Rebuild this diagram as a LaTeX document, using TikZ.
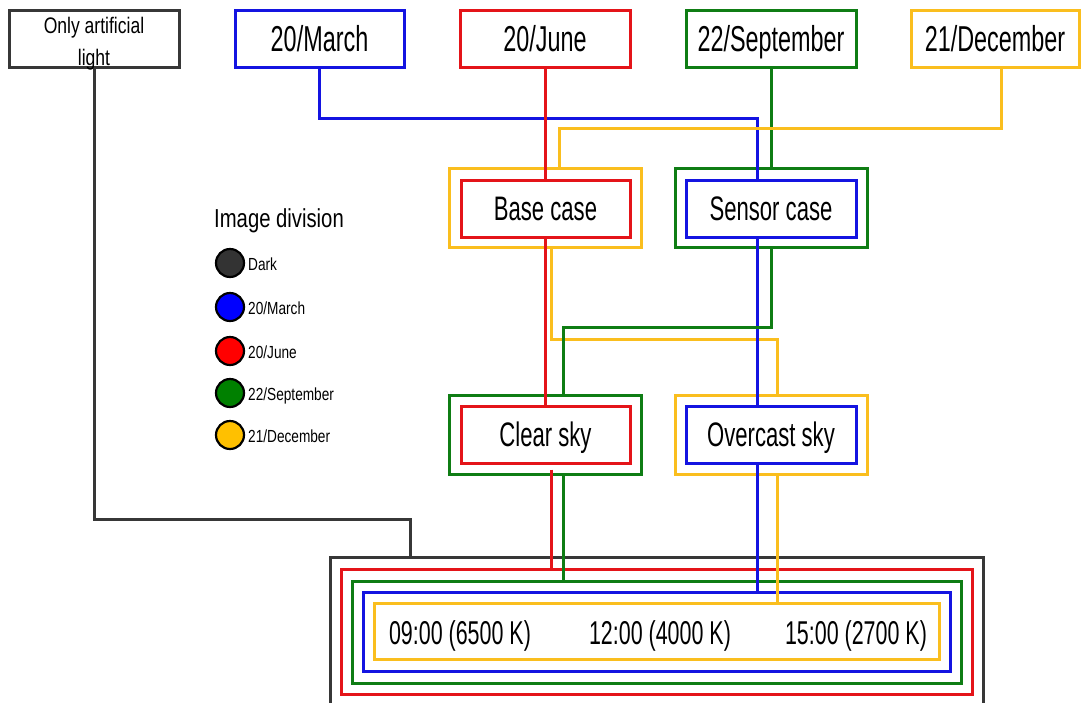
\documentclass[tikz,border=0pt]{standalone}
\usepackage{fontspec}
\newfontfamily\agA{Liberation Sans}[FakeStretch=0.65]
\newfontfamily\agB{Liberation Sans}[FakeStretch=0.78]
\definecolor{cblue}{RGB}{20,20,225}
\definecolor{cred}{RGB}{228,20,25}
\definecolor{cgreen}{RGB}{15,125,20}
\definecolor{cyel}{RGB}{250,190,30}
\definecolor{cdark}{RGB}{55,55,55}
\definecolor{fblue}{RGB}{0,0,255}
\definecolor{fred}{RGB}{255,0,0}
\definecolor{fgreen}{RGB}{0,128,0}
\definecolor{fyel}{RGB}{255,192,0}
\definecolor{fdark}{RGB}{51,51,51}
\begin{document}
\begin{tikzpicture}[x=1pt,y=-1pt,
  wire/.style={line width=3pt},
  box/.style={draw, rectangle, line width=3pt, inner sep=0pt},
  topbox/.style={box, minimum width=170pt, minimum height=57pt,
     font=\agA\fontsize{36}{40}\selectfont, text height=25.8pt, text depth=0pt},
  midbox/.style={box, minimum width=169pt, minimum height=57pt,
     font=\agA\fontsize{34}{38}\selectfont, text height=24.3pt, text depth=0pt},
  outbox/.style={box, minimum width=192pt, minimum height=79pt},
  timetext/.style={inner sep=0pt, font=\agA\fontsize{33}{36}\selectfont,
     text height=23.6pt, text depth=0pt},
  dot/.style={circle, draw=black, line width=2.2pt, minimum size=28pt, inner sep=0pt},
  leglab/.style={anchor=base west, inner sep=0pt, font=\agB\fontsize{17.5}{20}\selectfont}
]
\useasboundingbox (0,0) rectangle (1081,702);
\clip (0,0) rectangle (1081,702);
\fill[white] (0,0) rectangle (1081,702);

% routing coordinates
\coordinate (x410) at (410,0);
\coordinate (x551) at (551,0);
\coordinate (x559) at (559,0);
\coordinate (x563) at (563,0);
\coordinate (x757) at (757,0);
\coordinate (x777) at (777,0);
\coordinate (x1001) at (1001,0);
\coordinate (y118) at (0,118);
\coordinate (y128) at (0,128);
\coordinate (y327) at (0,327);
\coordinate (y339) at (0,339);
\coordinate (y519) at (0,519);

% top row
\node[box, draw=cdark, minimum width=170pt, minimum height=57pt,
      font=\agB\fontsize{22.5}{32}\selectfont] (oal) at (94,38.5)
      {\raisebox{-9.5pt}[0pt][0pt]{\begin{tabular}{@{}c@{}}Only artificial\\light\end{tabular}}};
\node[topbox, draw=cblue, minimum width=169pt] (mar) at (319.5,38.5) {20/March};
\node[topbox, draw=cred] (jun) at (545,38.5) {20/June};
\node[topbox, draw=cgreen] (sep) at (771,38.5) {22/September};
\node[topbox, draw=cyel, minimum width=168pt] (dec) at (995,38.5) {21/December};

% case row
\node[outbox, draw=cyel] (bco) at (545,207.5) {};
\node[midbox, draw=cred] (bci) at (545.5,208.5) {Base case};
\node[outbox, draw=cgreen] (sco) at (771,207.5) {};
\node[midbox, draw=cblue, minimum width=170pt] (sci) at (771,208.5) {Sensor case};

% sky row
\node[outbox, draw=cgreen] (cso) at (545,434.5) {};
\node[midbox, draw=cred] (csi) at (545.5,434.5) {Clear sky};
\node[outbox, draw=cyel] (oco) at (771,434.5) {};
\node[midbox, draw=cblue, minimum width=170pt] (oci) at (771,434.5) {Overcast sky};

% bottom nested boxes
\node[box, draw=cdark, minimum width=653pt, minimum height=166pt] (allbox) at (656.5,640) {};
\node[box, draw=cred, minimum width=631pt, minimum height=125pt] (redb) at (656.5,631.5) {};
\node[box, draw=cgreen, minimum width=609pt, minimum height=102pt] (greenb) at (656.5,632) {};
\node[box, draw=cblue, minimum width=587pt, minimum height=79pt] (blueb) at (656.5,631.5) {};
\node[box, draw=cyel, minimum width=565pt, minimum height=56pt] (yelb) at (656.5,631) {};
\node[timetext] (t1) at (460,633) {09:00 (6500 K)};
\node[timetext] (t2) at (660,633) {12:00 (4000 K)};
\node[timetext] (t3) at (856,633) {15:00 (2700 K)};

% connectors
\draw[wire, cblue] (mar.south) |- (x757 |- y118) -- (x757 |- sci.north);
\draw[wire, cred] (jun.south) -- (jun.south |- bci.north);
\draw[wire, cgreen] (sep.south) -- (sep.south |- sco.north);
\draw[wire, cyel] (dec.south -| x1001) |- (x559 |- y128) -- (x559 |- bco.north);

\draw[wire, cred] (bci.south -| jun.south) -- (jun.south |- csi.north);
\draw[wire, cyel] (bco.south -| x551) |- (x777 |- y339) -- (x777 |- oco.north);
\draw[wire, cblue] (sci.south -| x757) -- (x757 |- oci.north);
\draw[wire, cgreen] (sco.south) |- (x563 |- y327) -- (x563 |- cso.north);

\draw[wire, cred] ([yshift=-5pt]csi.south -| x551) -- (x551 |- redb.north);
\draw[wire, cgreen] (cso.south -| x563) -- (x563 |- greenb.north);
\draw[wire, cblue] (oci.south -| x757) -- (x757 |- blueb.north);
\draw[wire, cyel] (oco.south -| x777) -- (x777 |- yelb.north);

\draw[wire, cdark] (oal.south) |- (x410 |- y519) -- (x410 |- allbox.north);

% legend
\node[anchor=base west, inner sep=0pt, font=\agB\fontsize{26}{30}\selectfont]
   (legtitle) at (214,227) {Image division};
\node[dot, fill=fdark] (d1) at (230,263) {};
\node[leglab] (l1) at (248,270) {Dark};
\node[dot, fill=fblue] (d2) at (230,307) {};
\node[leglab] (l2) at (248,314) {20/March};
\node[dot, fill=fred] (d3) at (230,351) {};
\node[leglab] (l3) at (248,358) {20/June};
\node[dot, fill=fgreen] (d4) at (230,393) {};
\node[leglab] (l4) at (248,400) {22/September};
\node[dot, fill=fyel] (d5) at (230,435) {};
\node[leglab] (l5) at (248,442) {21/December};
\end{tikzpicture}
\end{document}
